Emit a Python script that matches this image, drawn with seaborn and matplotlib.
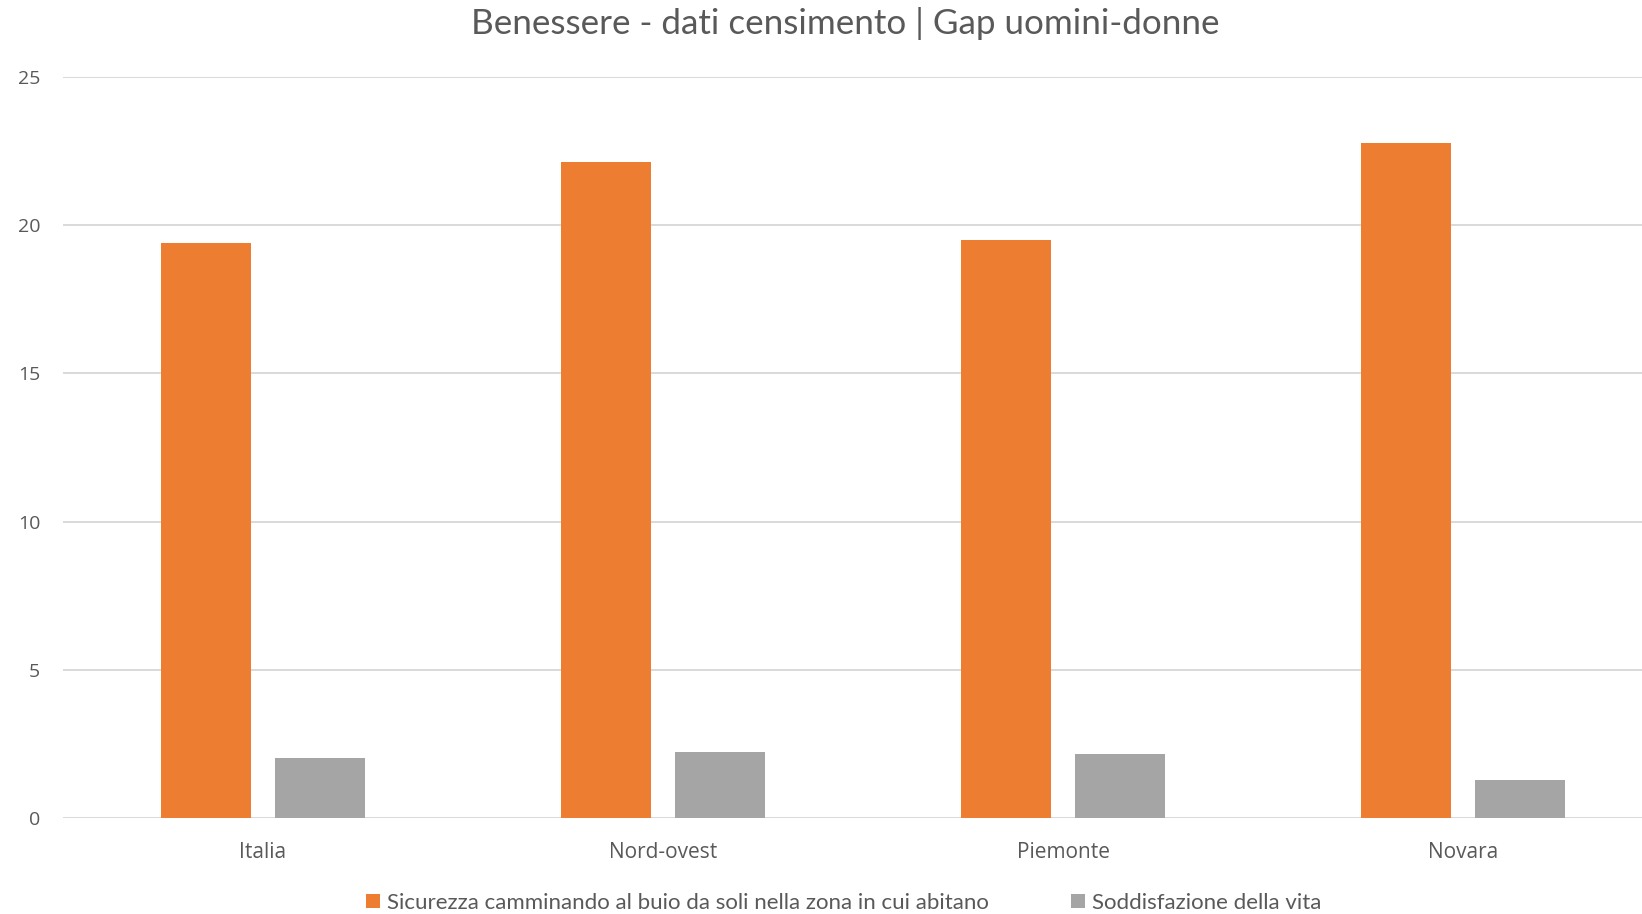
import matplotlib
matplotlib.use("Agg")
import matplotlib.pyplot as plt
import seaborn as sns
import pandas as pd
from matplotlib.patches import Patch

categories = ["Italia", "Nord-ovest", "Piemonte", "Novara"]
series_names = ["Sicurezza camminando al buio da soli nella zona in cui abitano",
                "Soddisfazione della vita"]
sicurezza = [19.40, 22.14, 19.50, 22.78]
soddisfazione = [2.03, 2.22, 2.16, 1.28]
yticks = [0, 5, 10, 15, 20, 25]
title = "Benessere - dati censimento | Gap uomini-donne"

colors = ["#ED7D31", "#A5A5A5"]
text_color = "#595959"

df = pd.DataFrame({
    "categoria": categories * 2,
    "valore": sicurezza + soddisfazione,
    "serie": [series_names[0]] * len(categories) + [series_names[1]] * len(categories),
})

sns.set_theme(style="white")
plt.rcParams["font.family"] = ["Lato", "DejaVu Sans"]

fig = plt.figure(figsize=(16.42, 9.14), dpi=100)
# plot area extends slightly past the right edge of the figure, as in the reference
ax = fig.add_axes([63 / 1642, 1 - 818 / 914, 1600 / 1642, (818 - 77) / 914])

sns.barplot(data=df, x="categoria", y="valore", hue="serie", palette=colors,
            width=0.571, gap=0.21, linewidth=0, saturation=1, ax=ax, legend=False)

ax.set_ylim(0, 25)
ax.set_yticks(yticks)
ax.set_xlim(-0.5, 3.5)
ax.set_axisbelow(True)
ax.yaxis.grid(True, color="#D9D9D9", linewidth=1.4)
ax.xaxis.grid(False)
for s in ["top", "right", "left", "bottom"]:
    ax.spines[s].set_visible(False)
ax.set_xlabel("")
ax.set_ylabel("")
ax.tick_params(axis="both", length=0, colors=text_color)
for lab in ax.get_yticklabels():
    lab.set_fontfamily(["Open Sans", "DejaVu Sans"])
    lab.set_fontsize(14)
ax.tick_params(axis="y", pad=16.5)
for lab in ax.get_xticklabels():
    lab.set_fontfamily(["Open Sans", "DejaVu Sans"])
    lab.set_fontsize(15)
ax.tick_params(axis="x", pad=17)

fig.suptitle(title, x=0.515, y=1 - 23 / 914, va="center", fontsize=25.2,
             color=text_color, fontweight="normal")

handles = [Patch(facecolor=c, edgecolor="none") for c in colors]
fig.legend(handles, series_names, loc="center", bbox_to_anchor=(0.514, 1 - 903 / 914),
           ncol=2, frameon=False, fontsize=16, labelcolor=text_color,
           handlelength=0.62, handleheight=0.62, handletextpad=0.33, columnspacing=3.7)

fig.savefig("out.png", dpi=100)
